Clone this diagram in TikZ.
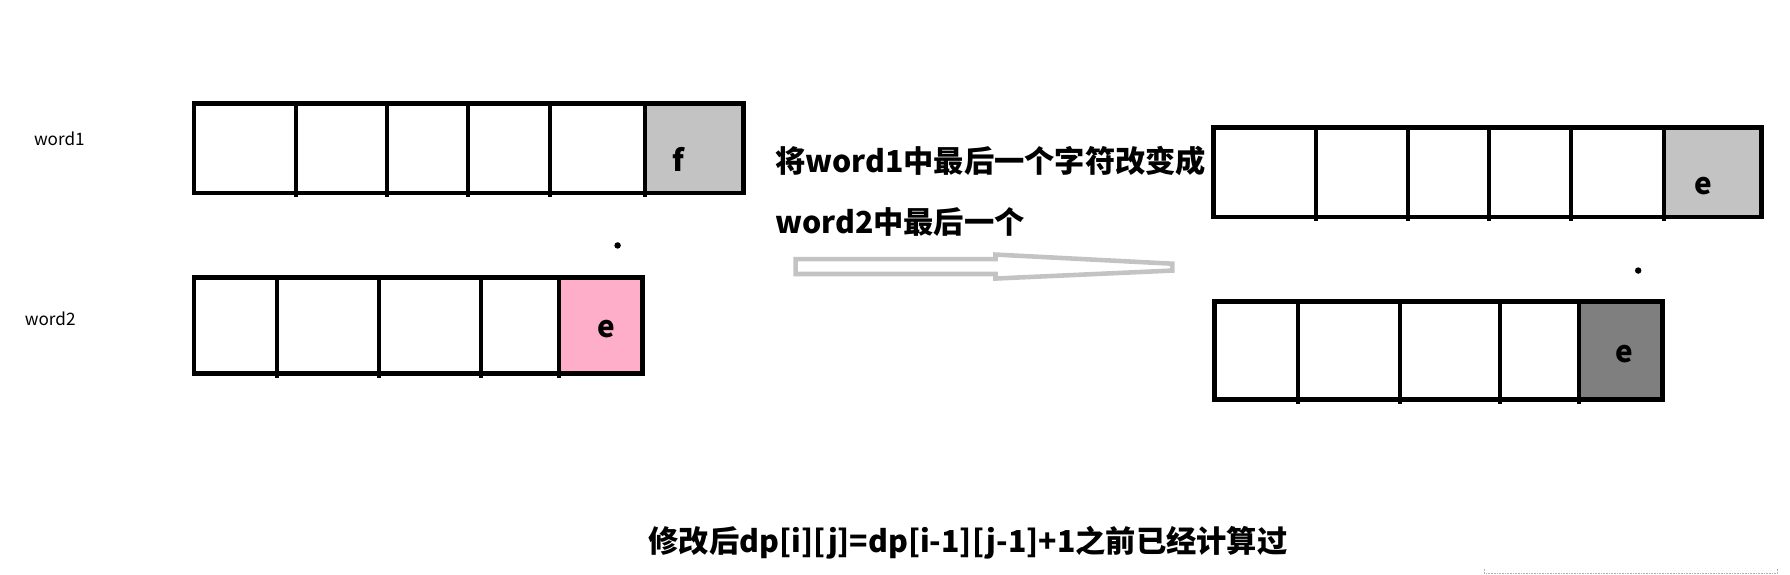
\documentclass[tikz,border=0pt]{standalone}
\usepackage{fontspec}
\setmainfont{Noto Sans CJK SC}
\usepackage{tikz}

\begin{document}
\begin{tikzpicture}
		[x=1pt,y=-1pt,line cap=butt,
		%Styles
		box/.style={line width=4.2pt},
		divider/.style={line width=3.5pt},
		letter/.style={font=\bfseries\fontsize{26}{30}\selectfont,inner sep=0pt},
		name text/.style={font=\fontsize{15}{18}\selectfont,inner sep=0pt},
		note text/.style={font=\bfseries\fontsize{26.5}{53}\selectfont,inner sep=0pt,align=left},
		hollow arrow/.style={draw=arrowgray,line width=4pt,line join=miter},
		dot/.style={circle,inner sep=2pt,fill}
		]
		
		%Colors
		\definecolor{lastgray}{HTML}{C3C3C3}
		\definecolor{lastpink}{HTML}{FFAEC9}
		\definecolor{darkcell}{HTML}{7F7F7F}
		\colorlet{arrowgray}{lastgray}
		
		\useasboundingbox (0,0) rectangle (1568,503);
		
		%The graphic
		\node[name text] (w1) at (52,122) {word1};
		\node[name text] (w2) at (44,279) {word2};
		
		%word1 before
		\fill[lastgray] (565,91) rectangle (651,169);
		\draw[box] (170,91) rectangle (651,169);
		\foreach \x in {259,339,410,482,565}
			\draw[divider] (\x,91) -- (\x,173);
		\node[letter] (f1) at (594,140) {f};
		
		%word2 before
		\fill[lastpink] (490,243) rectangle (563,327);
		\draw[box] (170,243) rectangle (563,327);
		\foreach \x in {243,332,421,490}
			\draw[divider] (\x,243) -- (\x,331);
		\node[letter] (e1) at (531,288) {e};
		
		\node[dot] (d1) at (541,215) {};
		
		%change
		\node[note text,anchor=north west] (note) at (679,128) {将word1中最后一个字符改变成\\word2中最后一个};
		\draw[hollow arrow] (697,227) -- (872,227) -- (872,223) -- (1027,231) -- (1027,237)
			-- (872,244) -- (872,240) -- (697,240) -- cycle;
		
		%word1 after
		\fill[lastgray] (1458,112) rectangle (1543,190);
		\draw[box] (1063,112) rectangle (1543,190);
		\foreach \x in {1153,1233,1304,1376,1458}
			\draw[divider] (\x,112) -- (\x,194);
		\node[letter] (e2) at (1492,163) {e};
		
		%word2 after
		\fill[darkcell] (1383,264) rectangle (1456,350);
		\draw[box] (1064,264) rectangle (1456,350);
		\foreach \x in {1137,1226,1314,1383}
			\draw[divider] (\x,264) -- (\x,354);
		\node[letter] (e3) at (1423,310) {e};
		
		\node[dot] (d2) at (1435,237) {};
		
		\node[note text] (result) at (848,475) {修改后dp[i][j]=dp[i-1][j-1]+1之前已经计算过};
		
		\draw[densely dotted,gray!60] (1300,498) -- (1300,502) -- (1557,502) -- (1557,498);
	\end{tikzpicture}
\end{document}
